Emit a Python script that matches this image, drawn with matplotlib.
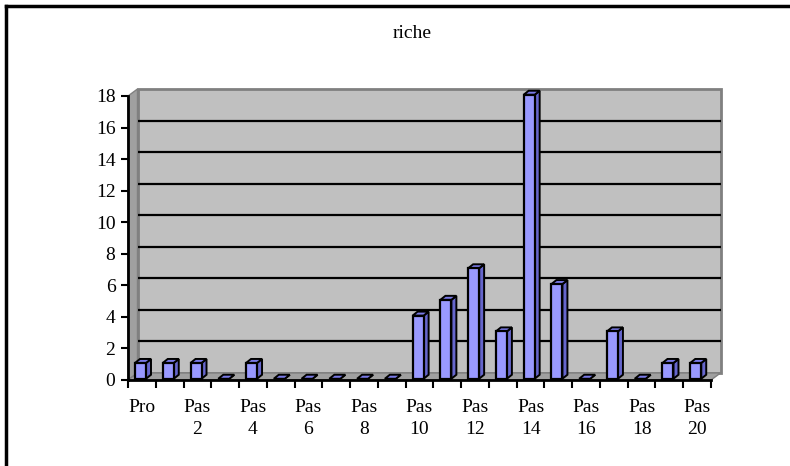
import numpy as np
import matplotlib.pyplot as plt
from matplotlib.patches import Polygon, Rectangle
from matplotlib.lines import Line2D

plt.rcParams['font.family'] = ['Liberation Serif', 'DejaVu Serif']
plt.rcParams['font.size'] = 14

# Data
categories = ['Pro'] + ['Pas %d' % i for i in range(1, 21)]
values = [1, 1, 1, 0, 1, 0, 0, 0, 0, 0, 4, 5, 7, 3, 18, 6, 0, 3, 0, 1, 1]
title = 'riche'
y_ticks = list(range(0, 19, 2))

W, H = 790, 466
fig = plt.figure(figsize=(W / 100, H / 100), dpi=100)

# front plane of the plot area, in pixels
x0, x1 = 128, 711
y0, y1 = 380, 96
ax = fig.add_axes([x0 / W, 1 - y0 / H, (x1 - x0) / W, (y0 - y1) / H])
n = len(categories)
ax.set_xlim(-0.5, n - 0.5)
ax.set_ylim(0, 18)
ax.patch.set_visible(False)

xppu = (x1 - x0) / n      # pixels per category
yppu = (y0 - y1) / 18.0   # pixels per unit

# wall depth (pixels -> data units)
wx, wy = 9.5 / xppu, 7 / yppu
# bar depth
bx, by = 5 / xppu, 4 / yppu
bw = 11 / xppu

lo, hi = -0.5, n - 0.5

# back wall
ax.add_patch(Polygon([(lo + wx, wy), (hi + wx, wy), (hi + wx, 18 + wy), (lo + wx, 18 + wy)],
                     closed=True, facecolor='#c0c0c0', edgecolor='#808080', lw=2,
                     clip_on=False, zorder=1))
# left side wall
ax.add_patch(Polygon([(lo, 0), (lo, 18), (lo + wx, 18 + wy), (lo + wx, wy)],
                     closed=True, facecolor='#a0a0a0', edgecolor='#808080', lw=1,
                     clip_on=False, zorder=1))
# floor
ax.add_patch(Polygon([(lo, 0), (hi, 0), (hi + wx, wy), (lo + wx, wy)],
                     closed=True, facecolor='#a0a0a0', edgecolor='#808080', lw=1,
                     clip_on=False, zorder=1))
# gridlines on the back wall
for t in y_ticks[1:-1]:
    ax.plot([lo + wx, hi + wx], [t + wy, t + wy], color='black', lw=1.6,
            clip_on=False, zorder=2, solid_capstyle='butt')

# 3D-looking bars
for i, v in enumerate(values):
    left = i - bw / 2 - 0.05
    right = left + bw
    base = 0.08
    top = base + v
    ax.add_patch(Polygon([(right, base), (right + bx, base + by), (right + bx, top + by), (right, top)],
                         closed=True, facecolor='#6666cc', edgecolor='black', lw=1.4,
                         clip_on=False, zorder=3))
    ax.add_patch(Polygon([(left, top), (right, top), (right + bx, top + by), (left + bx, top + by)],
                         closed=True, facecolor='#7a7ae6', edgecolor='black', lw=1.4,
                         clip_on=False, zorder=3))
    if v > 0:
        ax.add_patch(Rectangle((left, base), bw, v, facecolor='#9999ff', edgecolor='black',
                               lw=1.6, clip_on=False, zorder=4))

# axes
for s in ['top', 'right']:
    ax.spines[s].set_visible(False)
ax.spines['left'].set_linewidth(2)
ax.spines['bottom'].set_linewidth(2)
ax.spines['left'].set_zorder(5)
ax.spines['bottom'].set_zorder(5)

ax.set_yticks(y_ticks)
ax.tick_params(axis='y', direction='out', length=5, width=1.5, pad=4, labelsize=14)

ax.set_xticks(np.arange(lo, hi + 0.01, 1.0), minor=True)
ax.tick_params(axis='x', which='minor', direction='out', length=6, width=1.5)
label_pos = list(range(0, n, 2))
labels = [categories[i].replace(' ', '\n') for i in label_pos]
ax.set_xticks(label_pos)
ax.set_xticklabels(labels, va='top', linespacing=1.35)
ax.tick_params(axis='x', which='major', length=0, pad=14, labelsize=14)

fig.text(412 / W, 1 - 33 / H, title, ha='center', va='center', fontsize=14)

# outer chart frame (left and top edges visible)
fig.add_artist(Line2D([6 / W, 6 / W], [0, 1 - 6 / H], color='black', lw=2.5,
                      transform=fig.transFigure))
fig.add_artist(Line2D([6 / W, 1], [1 - 6 / H, 1 - 6 / H], color='black', lw=2.5,
                      transform=fig.transFigure))

fig.savefig('out.png', dpi=100)
